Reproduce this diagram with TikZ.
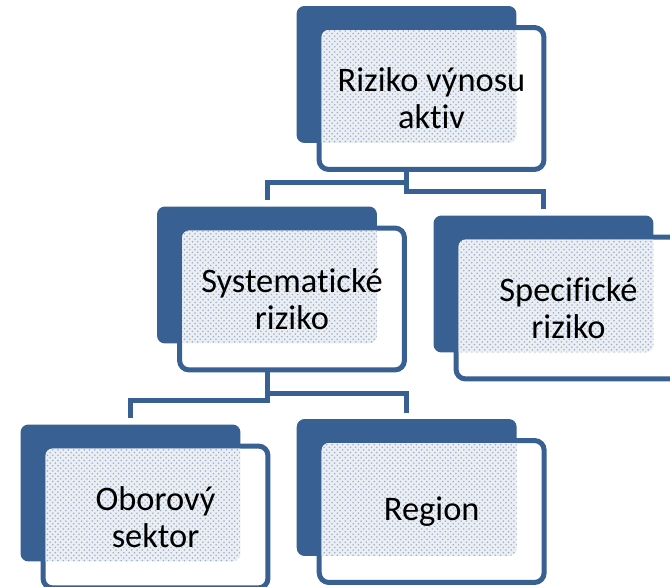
\documentclass[tikz,border=0pt]{standalone}
\usepackage{fontspec}
\setmainfont[Ligatures=CommonOff]{Carlito}
\usetikzlibrary{calc,patterns,backgrounds}
\definecolor{boxblue}{RGB}{56,96,146}
\tikzset{
  backbox/.style={fill=boxblue, rounded corners=4.5pt, minimum width=4.4cm, minimum height=2.74cm, inner sep=0pt, outer sep=0pt},
  frontbox/.style={draw=boxblue, fill=white, line width=0.1cm, rounded corners=5.5pt, minimum width=4.5cm, minimum height=2.84cm, inner sep=0pt, outer sep=0pt},
  dotfill/.style={pattern=crosshatch dots, pattern color=boxblue!50},
  boxtext/.style={align=center, font=\fontsize{19.6}{21.2}\selectfont, text=black},
  link/.style={draw=boxblue, line width=0.1cm, shorten >=0.13cm}
}
% back box, front box, dotted overlap, text
\def\riskbox(#1)(#2)#3{%
  \node[backbox] (#1b) at (#2) {};
  \node[frontbox] (#1f) at ($(#1b)+(25,24)$) {};
  \begin{scope}
    \clip[rounded corners=4pt] ($(#1f.north west)+(2.5,2.5)$) rectangle ($(#1f.south east)-(2.5,2.5)$);
    \fill[boxblue!10, rounded corners=4.5pt] (#1b.north west) rectangle (#1b.south east);
    \fill[dotfill, rounded corners=4.5pt] (#1b.north west) rectangle (#1b.south east);
  \end{scope}
  \node[boxtext] (#1) at (#1f) {#3};
}

\begin{document}
\begin{tikzpicture}[x=0.02cm, y=-0.02cm]
			%%%%% START %%%%%
			\clip (0,0) rectangle (670,587);
			
			\riskbox(riziko)(406.5,74.5){Riziko výnosu\\aktiv}
			\riskbox(system)(267,275){Systematické\\riziko}
			\riskbox(specific)(543.5,284){Specifické\\riziko}
			\riskbox(obor)(130.5,493){Oborový\\sektor}
			\riskbox(region)(406.7,487.5){Region}
			
			\begin{scope}[on background layer]
			\draw[link] (rizikob.south) -- ++(0,40) -| (systemb.north);
			\draw[link] (rizikob.south) -- ++(0,49) -| (specificb.north);
			\draw[link] (systemb.south) -- ++(0,57) -| (oborb.north);
			\draw[link] (systemb.south) -- ++(0,50) -| (regionb.north);
			\end{scope}
			
			%%%%% END %%%%%
\end{tikzpicture}
\end{document}
